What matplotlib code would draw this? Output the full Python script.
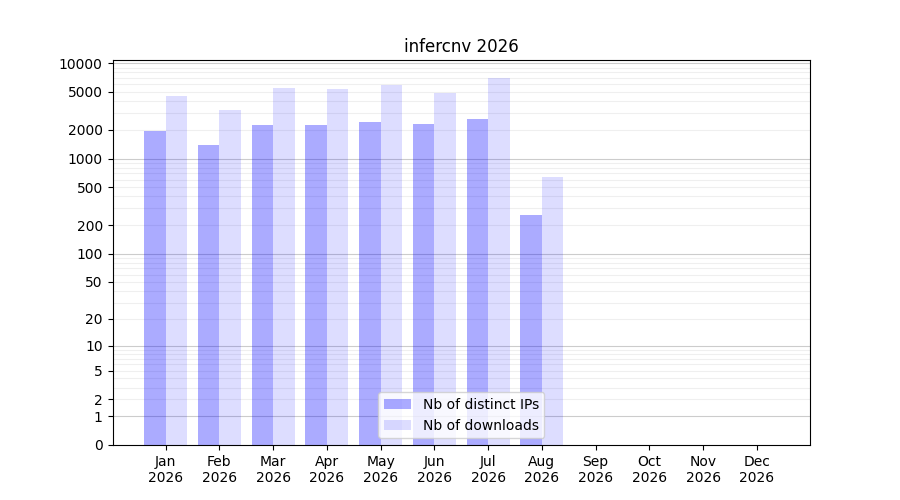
import matplotlib
matplotlib.use('Agg')
import matplotlib.pyplot as plt
import numpy as np

months = ['Jan', 'Feb', 'Mar', 'Apr', 'May', 'Jun', 'Jul', 'Aug', 'Sep', 'Oct', 'Nov', 'Dec']
year = '2026'
ips = [1940, 1385, 2240, 2230, 2410, 2300, 2590, 255, 0, 0, 0, 0]
downloads = [4510, 3220, 5470, 5340, 5890, 4850, 6960, 640, 0, 0, 0, 0]

major = [1, 10, 100, 1000, 10000]
labelled = [0, 1, 2, 5, 10, 20, 50, 100, 200, 500, 1000, 2000, 5000, 10000]
minor = [m * 10**k for k in range(4) for m in range(2, 10)]


def fwd(y):
    return np.log10(1 + np.clip(y, 0, None))


def inv(y):
    return 10**y - 1


fig, ax = plt.subplots(figsize=(9, 5), dpi=100)
x = np.arange(len(months))
w = 0.4
ax.bar(x - w / 2, ips, w, color='blue', alpha=0.33, label='Nb of distinct IPs')
ax.bar(x + w / 2, downloads, w, color='blue', alpha=0.133, label='Nb of downloads')

ax.set_yscale('function', functions=(fwd, inv))
ax.set_ylim(0, max(downloads) * 1.55)
ax.set_yticks(labelled)
ax.set_yticklabels([str(v) for v in labelled])
ax.set_yticks(minor, minor=True)
ax.tick_params(axis='y', which='minor', length=0)

for v in major:
    ax.axhline(v, color='gray', alpha=0.4, lw=0.8, zorder=0)
for v in minor:
    ax.axhline(v, color='gray', alpha=0.12, lw=0.8, zorder=0)

ax.set_xticks(x)
ax.set_xticklabels([m + '\n' + year for m in months])
ax.set_title('infercnv 2026')
ax.legend(loc='lower center')

fig.savefig('out.png')
